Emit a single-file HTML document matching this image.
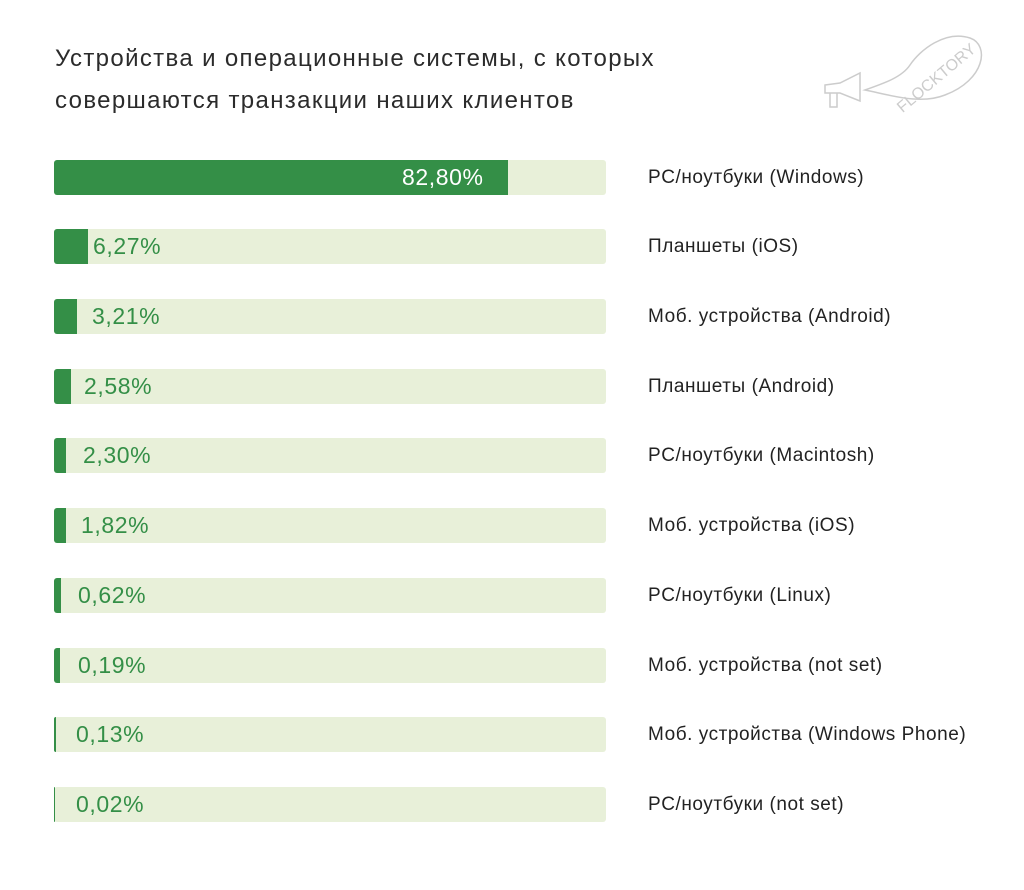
<!DOCTYPE html>
<html><head><meta charset="utf-8"><style>
body{margin:0;width:1024px;height:890px;background:#fff;position:relative;font-family:"Liberation Sans","DejaVu Sans",sans-serif;overflow:hidden}
.t{position:absolute;left:55px;font-size:24px;letter-spacing:1.35px;color:#2b2b2b;line-height:28px}
.bar{position:absolute;left:54px;width:552px;height:35px;background:#e8f0d9;border-radius:3px}
.f{position:absolute;left:0;top:0;height:35px;background:#348f47;border-radius:3px 0 0 3px}
.v{position:absolute;top:0;line-height:35px;font-size:23px;letter-spacing:0.6px;color:#348f47}
.l{position:absolute;left:648px;font-size:19px;letter-spacing:0.55px;color:#222;line-height:35px}
</style></head><body>
<div class="t" style="top:45px">Устройства и операционные системы, с которых</div>
<div class="t" style="top:87px">совершаются транзакции наших клиентов</div>
<svg style="position:absolute;left:820px;top:35px" width="175" height="80" viewBox="0 0 175 80" fill="none" stroke="#ccc" stroke-width="1.5">
<path d="M5 50 L20 48 L40 38 L40 66 L20 58 L5 58Z"/><path d="M10 58 L10 72 L17 72 L17 58"/>
<path d="M45 55 C70 60 100 70 125 60 C165 45 170 10 150 3 C125 -5 100 15 90 30 C82 42 65 48 45 55Z"/>
<text x="62" y="58" fill="#ccc" stroke="none" font-size="16" transform="rotate(-40 100 40)">FLOCKTORY</text>
</svg>
<div class="bar" style="top:160px"><div class="f" style="width:454px"></div><div class="v" style="left:348px;color:#fff">82,80%</div></div>
<div class="l" style="top:160px">PC/ноутбуки (Windows)</div>
<div class="bar" style="top:229px"><div class="f" style="width:34px"></div><div class="v" style="left:39px">6,27%</div></div>
<div class="l" style="top:229px">Планшеты (iOS)</div>
<div class="bar" style="top:299px"><div class="f" style="width:23px"></div><div class="v" style="left:38px">3,21%</div></div>
<div class="l" style="top:299px">Моб. устройства (Android)</div>
<div class="bar" style="top:369px"><div class="f" style="width:17px"></div><div class="v" style="left:30px">2,58%</div></div>
<div class="l" style="top:369px">Планшеты (Android)</div>
<div class="bar" style="top:438px"><div class="f" style="width:12px"></div><div class="v" style="left:29px">2,30%</div></div>
<div class="l" style="top:438px">PC/ноутбуки (Macintosh)</div>
<div class="bar" style="top:508px"><div class="f" style="width:12px"></div><div class="v" style="left:27px">1,82%</div></div>
<div class="l" style="top:508px">Моб. устройства (iOS)</div>
<div class="bar" style="top:578px"><div class="f" style="width:7px"></div><div class="v" style="left:24px">0,62%</div></div>
<div class="l" style="top:578px">PC/ноутбуки (Linux)</div>
<div class="bar" style="top:648px"><div class="f" style="width:6px"></div><div class="v" style="left:24px">0,19%</div></div>
<div class="l" style="top:648px">Моб. устройства (not set)</div>
<div class="bar" style="top:717px"><div class="f" style="width:2px"></div><div class="v" style="left:22px">0,13%</div></div>
<div class="l" style="top:717px">Моб. устройства (Windows Phone)</div>
<div class="bar" style="top:787px"><div class="f" style="width:1px"></div><div class="v" style="left:22px">0,02%</div></div>
<div class="l" style="top:787px">PC/ноутбуки (not set)</div>
</body></html>
